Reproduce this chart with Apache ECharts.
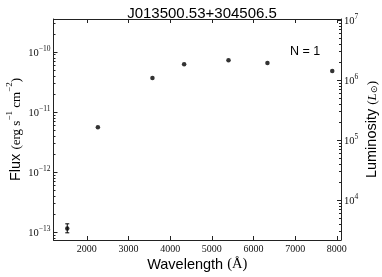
<!DOCTYPE html>
<html><head><meta charset="utf-8">
<script src="https://cdn.jsdelivr.net/npm/echarts@6/dist/echarts.min.js"></script>
<style>html,body{margin:0;padding:0;background:#fff}#c{width:382px;height:277px}</style>
</head><body><div id="c"></div>
<script>
// ---- data ----
const chartTitle = 'J013500.53+304506.5';
const annotation = 'N = 1';
const wavelengths = [1530, 2265, 3575, 4335, 5400, 6335, 7890];
const fluxes = [1.15e-13, 5.56e-12, 3.69e-11, 6.24e-11, 7.28e-11, 6.56e-11, 4.82e-11];
const errWavelengths = [1530];
const errLow = [0.97e-13];
const errHigh = [1.37e-13];
const xTicks = [2000, 3000, 4000, 5000, 6000, 7000, 8000];
const fluxTicks = [1e-13, 1e-12, 1e-11, 1e-10];
const lumTicks = [1e4, 1e5, 1e6, 1e7];
const xRange = [1200, 8100];
const fluxRange = [Math.pow(10, -13.133), Math.pow(10, -9.45)];
const lumRange = [Math.pow(10, 3.334), Math.pow(10, 7.017)];

function minorTicks(range) {
  const out = [];
  const e0 = Math.floor(Math.log10(range[0])), e1 = Math.ceil(Math.log10(range[1]));
  for (let e = e0; e <= e1; e++) for (let k = 2; k <= 9; k++) {
    const v = k * Math.pow(10, e);
    if (v > range[0] && v < range[1]) out.push(v);
  }
  return out;
}
function supLabel(v) {
  const e = Math.round(Math.log10(v));
  return '{b|10}{s|' + (e < 0 ? '\u2212' + (-e) : e) + '}';
}
const serif = 'Liberation Serif';
const sans = 'Liberation Sans';
const lineCol = '#222';
const supRich = {
  b: {fontFamily: serif, fontSize: 10.5, lineHeight: 14, verticalAlign: 'bottom', color: '#111'},
  s: {fontFamily: serif, fontSize: 7.5, lineHeight: 14, verticalAlign: 'top', color: '#111'}
};

const chart = echarts.init(document.getElementById('c'), null, {renderer: 'canvas'});
chart.setOption({
  animation: false,
  backgroundColor: '#fff',
  title: {
    text: chartTitle, left: 197, top: 1, textAlign: 'center',
    textStyle: {fontFamily: sans, fontSize: 15, fontWeight: 'normal', color: '#000'}
  },
  grid: {left: 53.5, right: 41, top: 19, bottom: 37, containLabel: false, outerBoundsMode: 'none'},
  graphic: [{
    type: 'text', left: 290, top: 45,
    style: {text: annotation, fontFamily: sans, fontSize: 12.5, fill: '#000'}
  }],
  xAxis: [{
    type: 'value', min: xRange[0], max: xRange[1], position: 'bottom',
    name: '{a|Wavelength }{m|(Å)}', nameLocation: 'middle', nameGap: 17, nameMoveOverlap: false,
    nameTextStyle: {rich: {
      a: {fontFamily: sans, fontSize: 14.5, color: '#000'},
      m: {fontFamily: serif, fontSize: 14.5, color: '#000'}
    }},
    axisLine: {show: true, lineStyle: {color: lineCol, width: 1}},
    axisTick: {show: true, inside: true, length: 4, customValues: xTicks, lineStyle: {color: lineCol}},
    axisLabel: {show: true, customValues: xTicks, margin: 4, fontFamily: serif, fontSize: 10, color: '#111',
      formatter: (v) => String(v)},
    splitLine: {show: false}
  }, {
    type: 'value', min: xRange[0], max: xRange[1], position: 'top',
    axisLine: {show: true, lineStyle: {color: lineCol, width: 1}},
    axisTick: {show: true, inside: true, length: 4, customValues: xTicks, lineStyle: {color: lineCol}},
    axisLabel: {show: false},
    splitLine: {show: false}
  }],
  yAxis: [{
    type: 'log', min: fluxRange[0], max: fluxRange[1], position: 'left',
    name: '{a|Flux }{m|(erg s}{s|\u22121}{m| cm}{s|\u22122}{m|)}',
    nameLocation: 'middle', nameRotate: 90, nameGap: 30, nameMoveOverlap: false,
    nameTextStyle: {rich: {
      a: {fontFamily: sans, fontSize: 14.5, color: '#000', lineHeight: 18, verticalAlign: 'bottom'},
      m: {fontFamily: serif, fontSize: 13, color: '#000', lineHeight: 18, verticalAlign: 'bottom'},
      s: {fontFamily: serif, fontSize: 9, color: '#000', lineHeight: 16, verticalAlign: 'top'}
    }},
    axisLine: {show: true, lineStyle: {color: lineCol, width: 1}},
    axisTick: {show: true, inside: true, length: 4, customValues: fluxTicks, lineStyle: {color: lineCol}},
    axisLabel: {show: true, customValues: fluxTicks, margin: 3, formatter: supLabel, rich: supRich},
    splitLine: {show: false}
  }, {
    type: 'log', min: lumRange[0], max: lumRange[1], position: 'right',
    name: '{a|Luminosity }{m|(}{i|L}{sub|\u2299}{m|)}',
    nameLocation: 'middle', nameRotate: 90, nameGap: 20, nameMoveOverlap: false,
    nameTextStyle: {rich: {
      a: {fontFamily: sans, fontSize: 14.5, color: '#000', lineHeight: 18, verticalAlign: 'bottom'},
      m: {fontFamily: serif, fontSize: 13, color: '#000', lineHeight: 18, verticalAlign: 'bottom'},
      i: {fontFamily: serif, fontStyle: 'italic', fontSize: 13, color: '#000', lineHeight: 18, verticalAlign: 'bottom'},
      sub: {fontFamily: serif, fontSize: 9, color: '#000', lineHeight: 16, verticalAlign: 'bottom'}
    }},
    axisLine: {show: true, lineStyle: {color: lineCol, width: 1}},
    axisTick: {show: true, inside: true, length: 4, customValues: lumTicks, lineStyle: {color: lineCol}},
    axisLabel: {show: true, customValues: lumTicks, margin: 3, formatter: supLabel, rich: supRich},
    splitLine: {show: false}
  }, {
    type: 'log', min: fluxRange[0], max: fluxRange[1], position: 'left',
    axisLine: {show: false},
    axisTick: {show: true, inside: true, length: 2, customValues: minorTicks(fluxRange), lineStyle: {color: lineCol}},
    axisLabel: {show: false}, splitLine: {show: false}
  }, {
    type: 'log', min: lumRange[0], max: lumRange[1], position: 'right',
    axisLine: {show: false},
    axisTick: {show: true, inside: true, length: 2, customValues: minorTicks(lumRange), lineStyle: {color: lineCol}},
    axisLabel: {show: false}, splitLine: {show: false}
  }],
  series: [{
    type: 'scatter', xAxisIndex: 0, yAxisIndex: 0,
    data: wavelengths.map((w, i) => [w, fluxes[i]]),
    symbol: 'circle', symbolSize: 4.5,
    itemStyle: {color: '#000'}, z: 3
  }, {
    type: 'custom', xAxisIndex: 0, yAxisIndex: 0,
    data: errWavelengths.map((w, i) => [w, errLow[i], errHigh[i]]),
    renderItem: function (params, api) {
      const lo = api.coord([api.value(0), api.value(1)]);
      const hi = api.coord([api.value(0), api.value(2)]);
      const st = {stroke: '#000', lineWidth: 1};
      return {type: 'group', children: [
        {type: 'line', shape: {x1: lo[0], y1: lo[1], x2: hi[0], y2: hi[1]}, style: st},
        {type: 'line', shape: {x1: lo[0] - 2, y1: lo[1], x2: lo[0] + 2, y2: lo[1]}, style: st},
        {type: 'line', shape: {x1: hi[0] - 2, y1: hi[1], x2: hi[0] + 2, y2: hi[1]}, style: st}
      ]};
    }, z: 2
  }]
});
</script>
</body></html>
